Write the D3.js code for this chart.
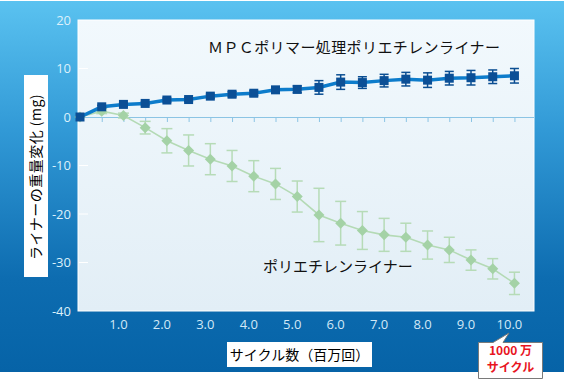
<!DOCTYPE html>
<html>
<head>
<meta charset="utf-8">
<script src="https://cdn.jsdelivr.net/npm/d3@7"></script>
<style>
  body { margin: 0; background: #fff; }
  svg { display: block; }
</style>
</head>
<body>
<div id="chart"></div>
<script>
// cycles, in millions
var cycles = [0, 0.5, 1.0, 1.5, 2.0, 2.5, 3.0, 3.5, 4.0, 4.5, 5.0, 5.5, 6.0, 6.5, 7.0, 7.5, 8.0, 8.5, 9.0, 9.5, 10.0];

// MPC polymer treated liner (mg)
var mpcValues = [0, 2.1, 2.6, 2.8, 3.5, 3.6, 4.3, 4.7, 4.9, 5.6, 5.7, 6.1, 7.2, 7.1, 7.5, 7.8, 7.6, 8.0, 8.1, 8.3, 8.5];
var mpcErrors = [0, 0.3, 0.3, 0.3, 0.4, 0.4, 0.4, 0.5, 0.5, 0.5, 0.7, 1.4, 1.5, 1.2, 1.3, 1.4, 1.5, 1.4, 1.5, 1.4, 1.5];

// untreated polyethylene liner (mg)
var peValues = [0, 1.2, 0.3, -2.2, -4.9, -6.9, -8.7, -10.1, -12.2, -13.8, -16.4, -20.2, -21.9, -23.4, -24.3, -24.8, -26.4, -27.4, -29.5, -31.3, -34.3];
var peErrors = [0, 0.5, 0.5, 1.3, 2.5, 3.2, 3.2, 3.2, 3.2, 3.2, 3.2, 5.5, 4.5, 3.9, 3.4, 2.9, 2.9, 2.6, 2.1, 2.1, 2.3];

var yTicks = [20, 10, 0, -10, -20, -30, -40];
var xTicks = [1, 2, 3, 4, 5, 6, 7, 8, 9, 10];

var W = 564, H = 382;
var svg = d3.select("#chart").append("svg")
  .attr("width", W)
  .attr("height", H);

var defs = svg.append("defs");
var bg = defs.append("linearGradient").attr("id", "bg")
  .attr("x1", 0).attr("y1", 0).attr("x2", 0).attr("y2", 1);
bg.append("stop").attr("offset", "0%").attr("stop-color", "#5ac2f0");
bg.append("stop").attr("offset", "35%").attr("stop-color", "#3199d6");
bg.append("stop").attr("offset", "75%").attr("stop-color", "#0d6cb0");
bg.append("stop").attr("offset", "100%").attr("stop-color", "#0663a7");

var pg = defs.append("linearGradient").attr("id", "plotbg")
  .attr("x1", 0).attr("y1", 0).attr("x2", 0).attr("y2", 1);
pg.append("stop").attr("offset", "0%").attr("stop-color", "#f2f9fd");
pg.append("stop").attr("offset", "100%").attr("stop-color", "#e2eef6");

// outer background
svg.append("rect")
  .attr("x", 0).attr("y", 1)
  .attr("width", W).attr("height", 371)
  .attr("fill", "url(#bg)");

// scales
var x = d3.scaleLinear().domain([0, 10.45]).range([80, 534]);
var y = d3.scaleLinear().domain([-40, 20]).range([311, 20]);

// plot area
svg.append("rect")
  .attr("x", 78).attr("y", y(20))
  .attr("width", x(10.45) - 78).attr("height", y(-40) - y(20))
  .attr("fill", "url(#plotbg)")
  .attr("stroke", "#ffffff")
  .attr("stroke-width", 1);

// small white ticks on the left
svg.selectAll(".ytickmark")
  .data(yTicks.slice(1, -1))
  .enter().append("line")
  .attr("x1", 79).attr("x2", 88)
  .attr("y1", function(d) { return y(d); })
  .attr("y2", function(d) { return y(d); })
  .attr("stroke", "#ffffff")
  .attr("stroke-width", 1);

// y labels
svg.selectAll(".ylab")
  .data(yTicks)
  .enter().append("text")
  .attr("class", "ylab")
  .attr("x", 71)
  .attr("y", function(d) { return y(d); })
  .attr("dy", "0.35em")
  .attr("text-anchor", "end")
  .attr("fill", "#dcf0fb")
  .style("font", "13px 'Open Sans', 'Noto Sans', sans-serif")
  .text(function(d) { return d; });

// zero line with ticks every 0.5
var zeroAxis = d3.axisBottom(x)
  .tickValues(cycles.slice(1))
  .tickSize(5)
  .tickFormat("");
var zg = svg.append("g")
  .attr("transform", "translate(0," + y(0) + ")")
  .call(zeroAxis);
zg.select(".domain").attr("stroke", "#8cc4e4").attr("d", "M78,0.5H534");
zg.selectAll(".tick line").attr("stroke", "#8cc4e4");

// x labels
svg.selectAll(".xlab")
  .data(xTicks)
  .enter().append("text")
  .attr("class", "xlab")
  .attr("x", function(d) { return x(d) - 5; })
  .attr("y", 329)
  .attr("text-anchor", "middle")
  .attr("fill", "#d2e8f7")
  .style("font", "13px 'Open Sans', 'Noto Sans', sans-serif")
  .text(function(d) { return d.toFixed(1); });

// polyethylene series (green)
var peData = cycles.map(function(c, i) { return {x: c, v: peValues[i], e: peErrors[i]}; });
var mpcData = cycles.map(function(c, i) { return {x: c, v: mpcValues[i], e: mpcErrors[i]}; });

var line = d3.line()
  .x(function(d) { return x(d.x); })
  .y(function(d) { return y(d.v); });

function errorBars(data, color, cap, width) {
  var g = svg.append("g")
    .attr("stroke", color)
    .attr("stroke-width", width)
    .attr("fill", "none");
  data.forEach(function(d) {
    if (d.e <= 0) return;
    var cx = x(d.x), top = y(d.v + d.e), bot = y(d.v - d.e);
    g.append("line").attr("x1", cx).attr("x2", cx).attr("y1", top).attr("y2", bot);
    g.append("line").attr("x1", cx - cap / 2).attr("x2", cx + cap / 2).attr("y1", top).attr("y2", top);
    g.append("line").attr("x1", cx - cap / 2).attr("x2", cx + cap / 2).attr("y1", bot).attr("y2", bot);
  });
}

errorBars(peData, "#b6dbb7", 11, 1.5);

svg.append("path")
  .datum(peData)
  .attr("d", line)
  .attr("fill", "none")
  .attr("stroke", "#b4dab5")
  .attr("stroke-width", 1.6);

svg.selectAll(".diamond")
  .data(peData)
  .enter().append("path")
  .attr("class", "diamond")
  .attr("d", "M0,-5.5L5.5,0L0,5.5L-5.5,0Z")
  .attr("transform", function(d) { return "translate(" + x(d.x) + "," + y(d.v) + ")"; })
  .attr("fill", "#a4d2a6");

// MPC series (blue)
errorBars(mpcData, "#0b4e92", 9, 1.5);

svg.append("path")
  .datum(mpcData)
  .attr("d", line)
  .attr("fill", "none")
  .attr("stroke", "#0d7ccb")
  .attr("stroke-width", 3.5);

svg.selectAll(".square")
  .data(mpcData)
  .enter().append("rect")
  .attr("class", "square")
  .attr("x", function(d) { return x(d.x) - 4.5; })
  .attr("y", function(d) { return y(d.v) - 4.5; })
  .attr("width", 9).attr("height", 9)
  .attr("fill", "#0b4f96");

// series labels
var jp = "'Noto Sans CJK JP', sans-serif";
svg.append("text")
  .attr("x", 208).attr("y", 53)
  .attr("fill", "#111")
  .style("font", "15px " + jp)
  .style("letter-spacing", "0.4px")
  .text("ＭＰＣポリマー処理ポリエチレンライナー");

svg.append("text")
  .attr("x", 263).attr("y", 272)
  .attr("fill", "#111")
  .style("font", "15px " + jp)
  .text("ポリエチレンライナー");

// y title
svg.append("rect")
  .attr("x", 24).attr("y", 75).attr("width", 24).attr("height", 202)
  .attr("fill", "#ffffff");
svg.append("text")
  .attr("transform", "translate(41,177) rotate(-90)")
  .attr("text-anchor", "middle")
  .attr("fill", "#000")
  .style("font", "14px " + jp)
  .style("letter-spacing", "0.5px")
  .text("ライナーの重量変化 (mg)");

// x title
svg.append("rect")
  .attr("x", 227).attr("y", 342).attr("width", 145).attr("height", 25)
  .attr("fill", "#ffffff");
svg.append("text")
  .attr("x", 299.5).attr("y", 359.5)
  .attr("text-anchor", "middle")
  .attr("fill", "#000")
  .style("font", "14px " + jp)
  .text("サイクル数（百万回）");

// callout
svg.append("path")
  .attr("d", "M478.5,342.5H493L509,333L503,342.5H542.5V378.5H478.5Z")
  .attr("fill", "#ffffff")
  .attr("stroke", "#7a7a7a")
  .attr("stroke-width", 1);
svg.append("text")
  .attr("x", 510.5).attr("y", 355)
  .attr("text-anchor", "middle")
  .attr("fill", "#e8141e")
  .style("font", "bold 12px " + jp)
  .text("1000 万");
svg.append("text")
  .attr("x", 510.5).attr("y", 372)
  .attr("text-anchor", "middle")
  .attr("fill", "#e8141e")
  .style("font", "bold 12px " + jp)
  .text("サイクル");
</script>
</body>
</html>
